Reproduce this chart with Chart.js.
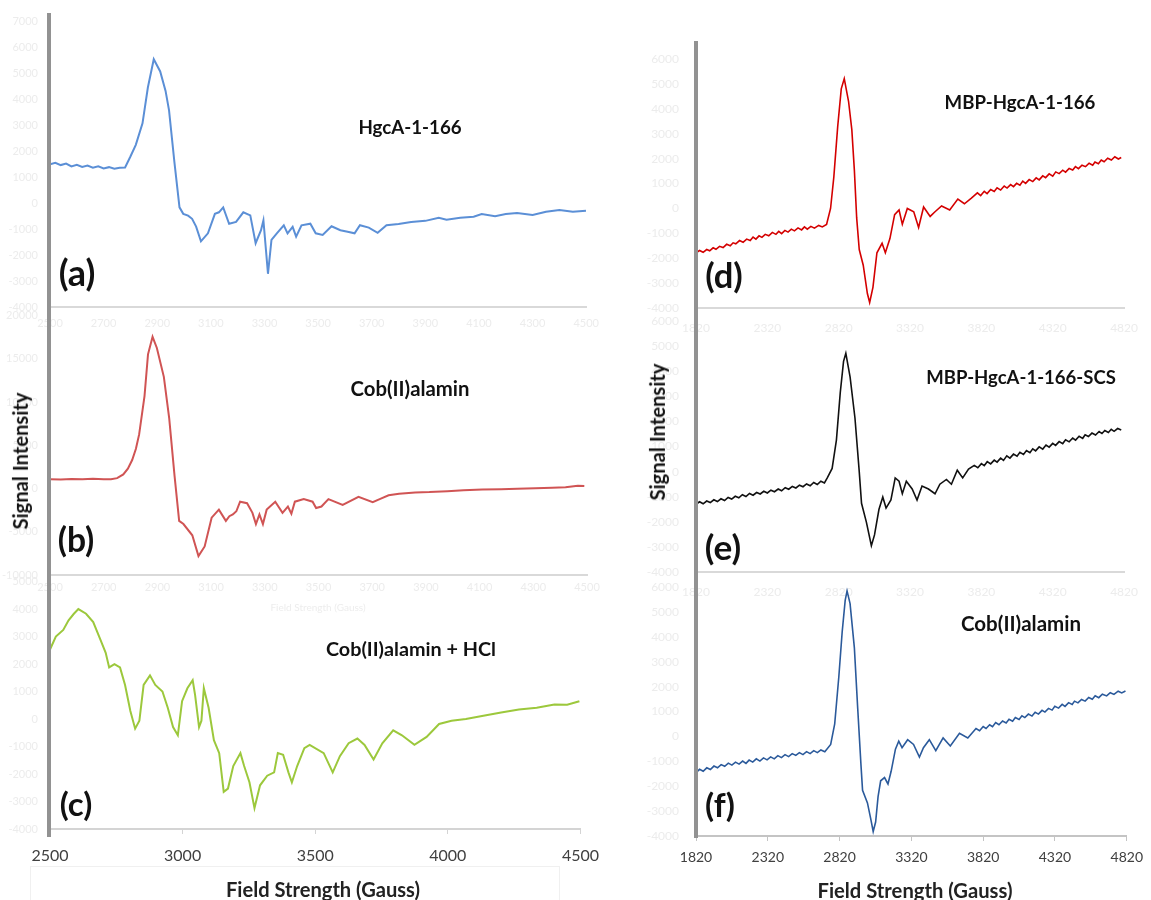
<!DOCTYPE html>
<html><head><meta charset="utf-8">
<script src="https://cdn.jsdelivr.net/npm/chart.js@4.4.1/dist/chart.umd.min.js"></script>
<style>
html,body{margin:0;padding:0;background:#fff;}
#stage{position:relative;width:1151px;height:900px;overflow:hidden;background:#fff;}
canvas{position:absolute;}
.bar{position:absolute;background:#929292;}
.lbl{position:absolute;white-space:nowrap;font-family:Lato,'Open Sans',sans-serif;font-weight:700;color:#111;line-height:1;transform:translate(-50%,-50%);}
.faint{position:absolute;white-space:nowrap;font-family:Lato,sans-serif;color:#ededed;font-size:10px;line-height:1;transform:translate(-50%,-50%);}
</style></head><body><div id="stage"></div>
<script>
// ---------- data ----------
const aField = [2500,2520,2540,2560,2580,2600,2620,2640,2660,2680,2700,2720,2740,2760,2780,2800,2820,2845,2865,2887,2911,2931,2944,2964,2983,2997,3015,3030,3045,3063,3089,3115,3130,3146,3168,3194,3221,3247,3267,3287,3296,3313,3326,3346,3372,3386,3405,3418,3438,3471,3491,3517,3550,3583,3610,3636,3656,3689,3722,3755,3800,3847,3900,3950,3979,4030,4080,4110,4160,4200,4242,4300,4350,4400,4450,4499];
const aSignal = [1500,1560,1470,1530,1420,1480,1400,1450,1370,1420,1340,1390,1330,1370,1380,1800,2250,3080,4460,5550,5080,4330,3580,1580,-160,-410,-480,-600,-900,-1470,-1160,-410,-350,-160,-790,-720,-350,-470,-1540,-1040,-660,-2720,-1410,-1160,-850,-1160,-910,-1290,-850,-790,-1160,-1220,-890,-1040,-1100,-1160,-850,-940,-1140,-850,-800,-720,-680,-560,-640,-560,-520,-420,-500,-420,-380,-450,-330,-260,-330,-290];

const bField = [2500,2540,2580,2621,2660,2700,2727,2750,2773,2790,2806,2820,2832,2852,2865,2882,2898,2924,2944,2964,2981,2997,3030,3053,3076,3102,3129,3155,3168,3181,3194,3208,3234,3254,3267,3280,3293,3307,3339,3366,3386,3399,3412,3445,3478,3491,3511,3537,3590,3649,3702,3730,3761,3800,3860,3913,3980,4040,4110,4180,4240,4308,4370,4420,4466,4490];
const bSignal = [1080,1050,1100,1060,1120,1080,1080,1200,1630,2300,3300,4600,6260,10700,15520,17550,16260,12920,8110,1440,-3740,-4110,-5410,-7810,-6700,-3370,-2440,-3740,-3200,-3000,-2630,-1520,-1700,-2810,-4110,-3000,-4110,-2440,-1520,-2810,-2080,-2920,-1520,-1220,-1520,-2260,-2080,-1220,-1890,-970,-1590,-1200,-780,-600,-450,-410,-300,-200,-110,-80,-20,30,80,150,330,300];

const cField = [2500,2522,2550,2570,2590,2607,2636,2663,2690,2710,2723,2743,2764,2783,2803,2821,2837,2853,2877,2897,2924,2944,2964,2982,2998,3018,3038,3047,3062,3071,3080,3098,3118,3138,3155,3171,3191,3218,3232,3252,3271,3292,3319,3345,3359,3379,3399,3412,3432,3459,3479,3532,3566,3593,3626,3659,3686,3720,3753,3794,3827,3874,3920,3967,4014,4068,4134,4201,4268,4335,4402,4450,4496];
const cSignal = [2530,3000,3240,3590,3830,4000,3830,3530,2890,2410,1880,2000,1880,1240,290,-350,-60,1240,1590,1240,1000,410,-290,-590,650,1120,1410,880,-290,-60,1120,410,-770,-1240,-2650,-2530,-1710,-1240,-1710,-2300,-3240,-2410,-2060,-1940,-1240,-1300,-1940,-2300,-1710,-1060,-940,-1240,-1940,-1350,-880,-710,-940,-1470,-880,-410,-590,-940,-650,-180,-60,0,120,240,350,410,530,520,650];

const dField = [1820,1845,1870,1895,1916,1940,1960,1985,2010,2035,2060,2080,2099,2125,2150,2175,2200,2220,2240,2262,2282,2305,2330,2355,2380,2400,2420,2443,2465,2488,2510,2535,2560,2580,2600,2625,2650,2680,2705,2735,
  2763,2786,2813,2838,2859,2889,2912,2930,2946,2964,2992,3021,3037,3060,3088,3124,3147,3179,3212,3243,3266,3301,3346,3380,3415,3461,3495,3541,3598,3655,3701,3750,
  3792,3815,3840,3860,3885,3910,3930,3955,3980,4000,4025,4045,4067,4090,4110,4130,4155,4180,4204,4225,4250,4270,4295,4320,4341,4365,4390,4410,4435,4460,4479,4500,4525,4550,4575,4600,4616,4640,4660,4680,4705,4731,4755,4780,4800];
const dSignal = [-1780,-1690,-1760,-1650,-1700,-1580,-1640,-1520,-1570,-1440,-1500,-1380,-1420,-1290,-1360,-1230,-1290,-1150,-1230,-1100,-1160,-1040,-1100,-960,-1040,-920,-1010,-880,-950,-830,-900,-780,-860,-740,-830,-720,-790,-680,-740,-640,
  0,1270,3290,4810,5220,4310,3170,1520,-380,-1650,-2280,-3420,-3780,-3170,-1780,-1400,-1780,-1210,-250,-60,-630,0,-130,-760,60,-320,-130,100,-60,380,190,420,
  630,520,690,600,760,680,830,740,900,820,960,880,1010,940,1100,1010,1160,1080,1230,1150,1310,1240,1390,1300,1470,1400,1540,1460,1610,1550,1680,1600,1740,1680,1820,1740,1870,1800,1950,1880,2020,1950,2080,1990,2050];

const eField = [1820,1845,1870,1895,1920,1945,1970,1995,2020,2045,2070,2095,2120,2145,2170,2195,2220,2245,2270,2295,2320,2345,2370,2396,2420,2445,2470,2495,2520,2545,2570,2595,2620,2645,2670,2695,2720,2740,
  2774,2804,2831,2854,2870,2900,2934,2964,2980,3014,3049,3071,3102,3129,3152,3186,3216,3243,3266,3294,3335,3369,3404,3449,3495,3529,3575,3610,3651,3689,3730,
  3770,3795,3820,3840,3861,3885,3910,3930,3955,3975,3998,4020,4045,4070,4090,4115,4136,4160,4180,4200,4225,4250,4273,4295,4320,4340,4365,4390,4410,4435,4460,4480,4505,4530,4547,4570,4595,4620,4645,4665,4685,4710,4730,4750,4775,4800];
const eSignal = [-1300,-1200,-1280,-1170,-1230,-1120,-1190,-1080,-1150,-1030,-1090,-980,-1040,-920,-990,-870,-940,-830,-890,-780,-850,-740,-800,-690,-760,-640,-700,-590,-650,-540,-600,-490,-560,-430,-510,-380,-450,-250,
  130,1260,3150,4400,4720,3770,2140,0,-1260,-2010,-2950,-2520,-1510,-1010,-1450,-1130,-250,-380,-880,-380,-690,-1130,-570,-690,-880,-500,-310,-500,60,-250,100,
  250,160,320,240,400,310,460,380,540,450,630,540,700,620,770,690,840,760,910,830,990,900,1060,980,1130,1050,1200,1120,1270,1190,1340,1260,1410,1330,1470,1400,1540,1460,1600,1520,1640,1560,1690,1610,1720,1660];

const fField = [1820,1845,1870,1895,1920,1945,1970,1995,2020,2045,2070,2095,2120,2145,2168,2190,2215,2240,2265,2290,2315,2340,2365,2390,2415,2440,2465,2490,2515,2540,2565,2590,2615,2640,2665,2690,2717,
  2758,2786,2815,2838,2859,2872,2893,2923,2946,2969,2980,3014,3037,3054,3071,3088,3106,3133,3157,3179,3209,3232,3255,3294,3335,3376,3404,3445,3490,3541,3591,3655,3713,
  3770,3795,3820,3840,3865,3885,3907,3930,3955,3980,4000,4025,4044,4070,4090,4110,4135,4160,4182,4205,4230,4250,4275,4300,4319,4345,4370,4390,4415,4440,4456,4480,4505,4530,4555,4580,4600,4625,4650,4680,4705,4731,4760,4785,4811];
const fSignal = [-1450,-1320,-1400,-1260,-1330,-1190,-1260,-1130,-1200,-1070,-1150,-1030,-1110,-990,-1080,-950,-1030,-900,-990,-860,-940,-820,-900,-770,-850,-730,-810,-690,-760,-650,-730,-610,-690,-570,-650,-540,-610,
  -320,510,2420,4200,5470,5850,5340,3560,1150,-1150,-2160,-2670,-3310,-3820,-3440,-2420,-1780,-1650,-1910,-1400,-510,-190,-450,-130,-320,-830,-450,-130,-570,-60,-380,130,-60,
  320,230,400,320,470,390,560,470,620,540,690,610,760,680,830,760,900,820,970,900,1050,980,1130,1060,1210,1140,1290,1210,1360,1290,1420,1350,1490,1420,1570,1500,1640,1560,1700,1630,1760,1690,1820,1750,1830];

// tick labels
const leftFineTicks = [2500,2700,2900,3100,3300,3500,3700,3900,4100,4300,4500];
const leftMainTicks = [2500,3000,3500,4000,4500];
const rightTicks = [1820,2320,2820,3320,3820,4320,4820];
const aYTicks = [-4000,-3000,-2000,-1000,0,1000,2000,3000,4000,5000,6000,7000];
const bYTicks = [-10000,-5000,0,5000,10000,15000,20000];
const cYTicks = [-4000,-3000,-2000,-1000,0,1000,2000,3000,4000,5000];
const rightYTicks = [-4000,-3000,-2000,-1000,0,1000,2000,3000,4000,5000,6000];

// ---------- layout ----------
const stage = document.getElementById('stage');
const FAINT = '#ececec';
const panels = [
  {field:aField, signal:aSignal, color:'#5b8fd6', lw:2, xMin:2500, xMax:4500, xTicks:leftFineTicks, yTicks:aYTicks,
   plot:[50,13,537,294], yW:50, padT:10, padR:22, xH:30, yFont:11, yPad:12,
   xFont:11, xColor:FAINT, xPad:10, xTickLen:0, axisColor:'#d9d9d9'},
  {field:bField, signal:bSignal, color:'#d05454', lw:2, xMin:2500, xMax:4500, xTicks:leftFineTicks, yTicks:bYTicks,
   plot:[50,307,537,268], yW:50, padT:10, padR:22, xH:30, yFont:11, yPad:12,
   xFont:11, xColor:FAINT, xPad:6, xTickLen:0, axisColor:'#d9d9d9'},
  {field:cField, signal:cSignal, color:'#9cc83c', lw:2, xMin:2500, xMax:4500, xTicks:leftMainTicks, yTicks:cYTicks,
   plot:[50,573,537,256], yW:50, padT:10, padR:24, xH:45, yFont:11, yPad:12,
   xFont:16, xColor:'#404040', xPad:12, xTickLen:5, axisColor:'#d4d4d4'},
  {field:dField, signal:dSignal, color:'#d40000', lw:1.6, xMin:1820, xMax:4820, xTicks:rightTicks, yTicks:rightYTicks,
   plot:[696,45,437,263], yW:60, padT:10, padR:18, xH:30, yFont:12, yPad:17,
   xFont:12, xColor:FAINT, xPad:13, xTickLen:0, axisColor:'#d9d9d9'},
  {field:eField, signal:eSignal, color:'#111111', lw:1.6, xMin:1820, xMax:4820, xTicks:rightTicks, yTicks:rightYTicks,
   plot:[696,307,437,265], yW:60, padT:10, padR:18, xH:30, yFont:12, yPad:17,
   xFont:12, xColor:FAINT, xPad:13, xTickLen:0, axisColor:'#d9d9d9'},
  {field:fField, signal:fSignal, color:'#2b5a9b', lw:1.6, xMin:1820, xMax:4820, xTicks:rightTicks, yTicks:rightYTicks,
   plot:[696,573,437,263], yW:60, padT:10, padR:18, xH:40, yFont:12, yPad:17,
   xFont:14, xColor:'#404040', xPad:8, xTickLen:5, axisColor:'#c4c4c4'}
];

function buildPanel(p) {
  const cv = document.createElement('canvas');
  const W = p.yW + p.plot[2] + p.padR;
  const H = p.padT + p.plot[3] + p.xH;
  cv.width = W; cv.height = H;
  cv.style.left = (p.plot[0] - p.yW) + 'px';
  cv.style.top = (p.plot[1] - p.padT) + 'px';
  cv.style.width = W + 'px'; cv.style.height = H + 'px';
  stage.appendChild(cv);
  const pts = p.field.map((x, i) => ({x: x, y: p.signal[i]}));
  const yMin = p.yTicks[0], yMax = p.yTicks[p.yTicks.length - 1];
  new Chart(cv, {
    type: 'line',
    data: {datasets: [{data: pts, borderColor: p.color, borderWidth: p.lw, pointRadius: 0, tension: 0, fill: false}]},
    options: {
      responsive: false, animation: false, devicePixelRatio: 1,
      layout: {padding: {top: p.padT, right: p.padR, left: 0, bottom: 0}},
      plugins: {legend: {display: false}, tooltip: {enabled: false}},
      scales: {
        x: {
          type: 'linear', min: p.xMin, max: p.xMax,
          afterBuildTicks: s => { s.ticks = p.xTicks.map(v => ({value: v})); },
          afterFit: s => { s.height = p.xH; },
          ticks: {autoSkip: false, maxRotation: 0, color: p.xColor, padding: p.xPad,
                  font: {family: 'Lato, sans-serif', size: p.xFont}, callback: v => String(v)},
          grid: {display: p.xTickLen > 0, drawOnChartArea: false, drawTicks: p.xTickLen > 0,
                 tickLength: p.xTickLen, color: p.axisColor, lineWidth: 1},
          border: {display: true, color: p.axisColor, width: 2}
        },
        y: {
          type: 'linear', min: yMin, max: yMax,
          afterBuildTicks: s => { s.ticks = p.yTicks.map(v => ({value: v})); },
          afterFit: s => { s.width = p.yW; },
          ticks: {autoSkip: false, color: FAINT, padding: p.yPad,
                  font: {family: 'Lato, sans-serif', size: p.yFont}, callback: v => String(v)},
          grid: {display: false, drawTicks: false},
          border: {display: false}
        }
      }
    }
  });
}
panels.forEach(buildPanel);

// thick vertical axis bars
function bar(l, t, w, h) {
  const d = document.createElement('div');
  d.className = 'bar';
  d.style.left = l + 'px'; d.style.top = t + 'px'; d.style.width = w + 'px'; d.style.height = h + 'px';
  stage.appendChild(d);
}
bar(47, 13, 4, 824);
bar(694, 41, 4, 797);

// faint text box around the bottom-left axis title
const box = document.createElement('div');
box.style.cssText = 'position:absolute;left:30px;top:866px;width:528px;height:40px;border:1px solid #f0f0f0;';
stage.appendChild(box);

// faint x-axis title of panel (b)
const ft = document.createElement('div');
ft.className = 'faint';
ft.textContent = 'Field Strength (Gauss)';
ft.style.left = '318px'; ft.style.top = '607px';
stage.appendChild(ft);

// annotations
const notes = [
  {text:'HgcA-1-166', cx:410, cy:127, w:103},
  {text:'(a)', cx:77, cy:272, w:36},
  {text:'Cob(II)alamin', cx:410, cy:388, w:119},
  {text:'(b)', cx:76, cy:540, w:37},
  {text:'Cob(II)alamin + HCl', cx:411, cy:649, w:170},
  {text:'(c)', cx:76, cy:803, w:33},
  {text:'MBP-HgcA-1-166', cx:1020, cy:102, w:151},
  {text:'(d)', cx:724, cy:275, w:38},
  {text:'MBP-HgcA-1-166-SCS', cx:1021, cy:377, w:190},
  {text:'(e)', cx:723, cy:547, w:37},
  {text:'Cob(II)alamin', cx:1021, cy:623, w:120},
  {text:'(f)', cx:720, cy:805, w:30},
  {text:'Signal Intensity', cx:20, cy:461, w:137, rot:true},
  {text:'Signal Intensity', cx:657, cy:432, w:137, rot:true},
  {text:'Field Strength (Gauss)', cx:323, cy:889, w:194, color:'#222'},
  {text:'Field Strength (Gauss)', cx:915, cy:890, w:195, color:'#222'}
];
notes.forEach(n => {
  const d = document.createElement('div');
  d.className = 'lbl';
  d.textContent = n.text;
  d.style.fontSize = '20px';
  if (n.color) d.style.color = n.color;
  stage.appendChild(d);
  const w0 = d.offsetWidth;
  d.style.fontSize = (20 * n.w / w0).toFixed(2) + 'px';
  d.style.left = n.cx + 'px'; d.style.top = n.cy + 'px';
  if (n.rot) d.style.transform = 'translate(-50%,-50%) rotate(-90deg)';
});
</script>
</body></html>
